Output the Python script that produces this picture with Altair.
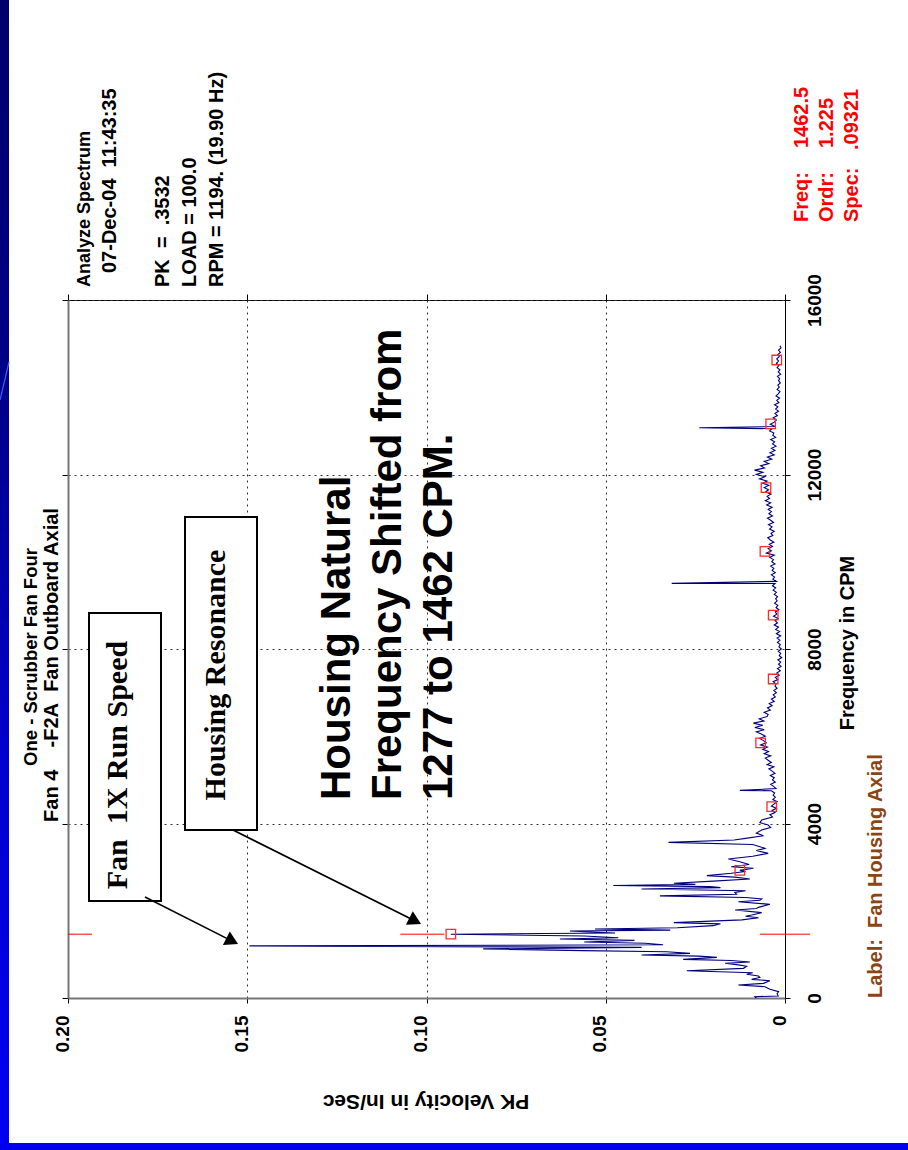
import altair as alt
import pandas as pd

# ---------------- spectrum data (frequency in CPM, PK velocity in in/sec) ----------------
# 0 - 4150 CPM: running-speed and housing-resonance region
low_freq = [0, 30, 46, 100, 145, 199, 259, 298, 336, 397, 428, 470, 504, 543, 580, 626,
            680, 727, 760, 795, 825, 860, 886, 932, 960, 986, 1024, 1060, 1085, 1125, 1160,
            1194, 1220, 1255, 1285, 1320, 1352, 1380, 1420, 1462.5, 1490, 1520, 1536, 1555,
            1582, 1610, 1658, 1700, 1727, 1790, 1841, 1875, 1903, 1956, 2017, 2050, 2078,
            2147, 2208, 2240, 2270, 2305, 2340, 2377, 2422, 2460, 2499, 2530, 2552, 2578,
            2605, 2629, 2680, 2728, 2770, 2805, 2860, 2900, 2925, 2973, 3010, 3060, 3125,
            3186, 3250, 3316, 3380, 3431, 3469, 3520, 3568, 3622, 3660, 3721, 3780, 3851,
            3910, 3966, 4020, 4080, 4150]
low_amp = [0.0080, 0.0084, 0.0019, 0.0022, 0.0018, 0.0042, 0.0056, 0.0130, 0.0060, 0.0042,
           0.0093, 0.0070, 0.0074, 0.0107, 0.0090, 0.0274, 0.0116, 0.0107, 0.0130, 0.0167,
           0.0098, 0.0150, 0.0284, 0.0190, 0.0240, 0.0400, 0.0265, 0.0330, 0.0563, 0.0842,
           0.0400, 0.1494, 0.0340, 0.0390, 0.0560, 0.0420, 0.0628, 0.0465, 0.0560, 0.09321,
           0.0474, 0.0560, 0.0600, 0.0320, 0.0530, 0.0300, 0.0200, 0.0180, 0.0310, 0.0120,
           0.0074, 0.0110, 0.0093, 0.0065, 0.0139, 0.0080, 0.0074, 0.0042, 0.0130, 0.0070,
           0.0065, 0.0110, 0.0349, 0.0135, 0.0140, 0.0110, 0.0400, 0.0180, 0.0209, 0.0479,
           0.0250, 0.0310, 0.0200, 0.0098, 0.0140, 0.0218, 0.0150, 0.0110, 0.0126, 0.0088,
           0.0150, 0.0100, 0.0126, 0.0158, 0.0090, 0.0047, 0.0080, 0.0056, 0.0070, 0.0090,
           0.0325, 0.0142, 0.0110, 0.0060, 0.0080, 0.0065, 0.0040, 0.0047, 0.0070, 0.0065,
           0.0035]

# 4200 - 14950 CPM noise floor, one value per 50 CPM bin (rows of 1000 CPM)
noise_start, noise_step = 4200, 50
noise_amp = [
    0.0042, 0.0028, 0.0036, 0.0024, 0.0038, 0.0030, 0.0022, 0.0034, 0.0027, 0.0033,
    0.0029, 0.0038, 0.0025, 0.0032, 0.0040, 0.0027, 0.0035, 0.0030, 0.0041, 0.0028,
    0.0036, 0.0045, 0.0031, 0.0050, 0.0038, 0.0047, 0.0055, 0.0040, 0.0058, 0.0046,
    0.0062, 0.0049, 0.0068, 0.0052, 0.0060, 0.0071, 0.0055, 0.0066, 0.0080, 0.0058,
    0.0084, 0.0062, 0.0088, 0.0059, 0.0072, 0.0050, 0.0047, 0.0058, 0.0041, 0.0049,
    0.0036, 0.0044, 0.0030, 0.0038, 0.0027, 0.0033, 0.0024, 0.0031, 0.0022, 0.0028,
    0.0025, 0.0033, 0.0020, 0.0027, 0.0016, 0.0023, 0.0013, 0.0021, 0.0011, 0.0018,
    0.0012, 0.0020, 0.0009, 0.0016, 0.0012, 0.0019, 0.0010, 0.0017, 0.0013, 0.0021,
    0.0014, 0.0022, 0.0012, 0.0024, 0.0015, 0.0026, 0.0018, 0.0030, 0.0021, 0.0028,
    0.0019, 0.0032, 0.0023, 0.0027, 0.0017, 0.0025, 0.0020, 0.0029, 0.0022, 0.0026,
    0.0021, 0.0030, 0.0024, 0.0033, 0.0026, 0.0035, 0.0028, 0.0024, 0.0034, 0.0029,
    0.0038, 0.0027, 0.0036, 0.0031, 0.0040, 0.0028, 0.0037, 0.0032, 0.0043, 0.0030,
    0.0052, 0.0038, 0.0047, 0.0035, 0.0044, 0.0031, 0.0041, 0.0048, 0.0034, 0.0039,
    0.0030, 0.0043, 0.0036, 0.0046, 0.0032, 0.0040, 0.0049, 0.0035, 0.0045, 0.0038,
    0.0047, 0.0036, 0.0051, 0.0040, 0.0055, 0.0043, 0.0050, 0.0039, 0.0054, 0.0046,
    0.0058, 0.0045, 0.0062, 0.0050, 0.0071, 0.0056, 0.0080, 0.0062, 0.0085, 0.0057,
    0.0068, 0.0045, 0.0058, 0.0037, 0.0049, 0.0030, 0.0042, 0.0028, 0.0038, 0.0025,
    0.0035, 0.0029, 0.0040, 0.0026, 0.0034, 0.0031, 0.0043, 0.0036, 0.0028, 0.0041,
    0.0030, 0.0024, 0.0033, 0.0021, 0.0028, 0.0018, 0.0026, 0.0020, 0.0029, 0.0017,
    0.0023, 0.0015, 0.0025, 0.0019, 0.0014, 0.0022, 0.0016, 0.0020, 0.0013, 0.0018,
    0.0015, 0.0021, 0.0012, 0.0019, 0.0014, 0.0022, 0.0017, 0.0024, 0.0018, 0.0023,
    0.0016, 0.0020, 0.0013, 0.0018, 0.0011, 0.0014,
]

# isolated lines above the noise floor
spike_freq = [4760, 9505, 13073]
spike_amp = [0.0126, 0.0316, 0.0239]

# harmonic cursor marks (multiples of 1462.5 CPM)
harm_freq = [1462.5, 2925, 4387.5, 5850, 7312.5, 8775, 10237.5, 11700, 13162.5, 14625]
harm_amp = [0.09321, 0.0126, 0.0037, 0.0068, 0.0033, 0.0033, 0.0056, 0.0053, 0.0040, 0.0023]

# cursor at the housing natural frequency, drawn as three short segments
cursor_freq = 1462.5
cursor_from = [0.2000, 0.1073, 0.0070]
cursor_to = [0.1933, 0.0950, -0.0070]

vel_ticks = [0, 0.05, 0.10, 0.15, 0.20]
freq_ticks = [0, 4000, 8000, 12000, 16000]

# ---------------- layout ----------------
W, H = 717, 698
PAD_L, PAD_T, PAD_R, PAD_B = 68, 300, 123, 152
SANS = "Liberation Sans"
SERIF = "Liberation Serif"
NB = "\u00a0"

noise_freq = [noise_start + noise_step * i for i in range(len(noise_amp))]
spec_df = pd.DataFrame({
    "freq": low_freq + noise_freq + spike_freq,
    "amp": low_amp + noise_amp + spike_amp,
}).sort_values("freq").reset_index(drop=True)
harm_df = pd.DataFrame({"freq": harm_freq, "amp": harm_amp})
cursor_df = pd.DataFrame({"freq": [cursor_freq] * 3, "a0": cursor_from, "a1": cursor_to})
ONE = pd.DataFrame({"k": [0]})

xs = alt.Scale(domain=[0, 0.2], reverse=True, nice=False, zero=False)
ys = alt.Scale(domain=[0, 16000], nice=False, zero=False)

grid_style = dict(grid=True, gridColor="#333333", gridDash=[2, 4], gridWidth=1)
label_style = dict(labelFont=SANS, labelFontSize=19, labelFontWeight="bold", labelColor="black",
                   labelOverlap=False, labelFlush=False, labelBound=False)

x_axis = alt.Axis(orient="bottom", values=vel_ticks, title=None,
                  labelExpr="datum.value == 0 ? '0' : format(datum.value, '.2f')",
                  labelAngle=270, labelAlign="right", labelBaseline="alphabetic", labelPadding=12,
                  tickSize=5, tickColor="black", tickWidth=1,
                  domainColor="#777777", domainWidth=2, **grid_style, **label_style)
y_axis = alt.Axis(orient="right", values=freq_ticks, format="d", title=None,
                  labelAngle=270, labelAlign="center", labelBaseline="top", labelPadding=15,
                  tickSize=5, tickColor="black", tickWidth=1,
                  domainColor="black", domainWidth=1, **grid_style, **label_style)
x_axis_top = alt.Axis(orient="top", values=vel_ticks, title=None, labels=False, grid=False,
                      domain=False, tickSize=6, tickColor="black", tickWidth=1)
y_axis_left = alt.Axis(orient="left", values=freq_ticks, title=None, labels=False, grid=False,
                       domainColor="#777777", domainWidth=2, tickSize=6, tickColor="black", tickWidth=1)

# ---------------- page frame ----------------
side_fill = alt.LinearGradient(
    gradient="linear", x1=0, x2=0, y1=0, y2=1,
    stops=[alt.GradientStop(color="#00006c", offset=0),
           alt.GradientStop(color="#00008a", offset=0.35),
           alt.GradientStop(color="#0000cc", offset=0.65),
           alt.GradientStop(color="#0000f2", offset=1)])
side_strip = alt.Chart(ONE).mark_rect(fill=side_fill).encode(
    x=alt.value(-PAD_L), x2=alt.value(-PAD_L + 9),
    y=alt.value(-PAD_T), y2=alt.value(H + PAD_B))
bottom_strip = alt.Chart(ONE).mark_rect(fill="#0000ee").encode(
    x=alt.value(-PAD_L), x2=alt.value(W + PAD_R),
    y=alt.value(H + 145), y2=alt.value(H + PAD_B))
swoosh = alt.Chart(ONE).mark_rule(color="#3b5cff", strokeWidth=1.2).encode(
    x=alt.value(-PAD_L), x2=alt.value(-PAD_L + 9),
    y=alt.value(400 - PAD_T), y2=alt.value(362 - PAD_T))

# ---------------- plot layers ----------------
cursor = alt.Chart(cursor_df).mark_rule(color="#ff0000", strokeWidth=1).encode(
    x=alt.X("a0:Q", scale=xs, axis=None), x2="a1:Q",
    y=alt.Y("freq:Q", scale=ys, axis=None))

spectrum = alt.Chart(spec_df).mark_line(color="#00007f", strokeWidth=1.1).encode(
    x=alt.X("amp:Q", scale=xs, axis=x_axis),
    y=alt.Y("freq:Q", scale=ys, axis=y_axis),
    order="freq:Q")

markers = alt.Chart(harm_df).mark_point(shape="square", size=90, filled=False,
                                        color="#ff2a2a", strokeWidth=1.3, opacity=1).encode(
    x=alt.X("amp:Q", scale=xs, axis=x_axis_top),
    y=alt.Y("freq:Q", scale=ys, axis=y_axis_left))

# callout boxes (velocity / frequency corners) and arrows
box_df = pd.DataFrame({"a0": [0.19414, 0.16736], "a1": [0.17406, 0.14728],
                       "f0": [2223, 3851], "f1": [8825, 11026]})
boxes = alt.Chart(box_df).mark_rect(fill="white", stroke="black", strokeWidth=2).encode(
    x=alt.X("a0:Q", scale=xs, axis=None), x2="a1:Q",
    y=alt.Y("f0:Q", scale=ys, axis=None), y2="f1:Q")

arrow_df = pd.DataFrame({"a0": [0.17852, 0.15397], "f0": [2315, 3851],
                         "a1": [0.15420, 0.10315], "f1": [1304, 1763]})
arrow_lines = alt.Chart(arrow_df).mark_rule(color="black", strokeWidth=1.6).encode(
    x=alt.X("a0:Q", scale=xs, axis=None), x2="a1:Q",
    y=alt.Y("f0:Q", scale=ys, axis=None), y2="f1:Q")
arrow_heads = alt.Chart(arrow_df).mark_point(shape="triangle-up", filled=True, size=230,
                                             color="black", opacity=1, angle=117).encode(
    x=alt.X("a1:Q", scale=xs, axis=None),
    y=alt.Y("f1:Q", scale=ys, axis=None))


def label(text, cx, cy, size=20, angle=270, align="center", baseline="middle",
          color="black", font=SANS, weight="bold"):
    return alt.Chart(ONE).mark_text(
        text=text, angle=angle, align=align, baseline=baseline, fontSize=size,
        font=font, fontWeight=weight, color=color).encode(
        x=alt.value(cx - PAD_L), y=alt.value(cy - PAD_T))


texts = [
    label("One - Scrubber Fan Four", 31, 657, size=18.5),
    label("Fan 4" + NB * 4 + "-F2A" + NB * 2 + "Fan Outboard Axial", 52, 665),
    label("Analyze Spectrum", 85, 287, size=18, align="left"),
    label("07-Dec-04" + NB * 2 + "11:43:35", 110, 273, align="left"),
    label("PK" + NB * 2 + "=" + NB * 2 + ".3532", 163, 287, align="left"),
    label("LOAD = 100.0", 190, 287, align="left"),
    label("RPM = 1194. (19.90 Hz)", 217, 287, align="left"),
    label("Freq:", 802, 222, align="left", color="#ff0000"),
    label("Ordr:", 827, 222, align="left", color="#ff0000"),
    label("Spec:", 852, 222, align="left", color="#ff0000"),
    label("1462.5", 802, 148, align="left", color="#ff0000"),
    label("1.225", 827, 148, align="left", color="#ff0000"),
    label(".09321", 852, 150, align="left", color="#ff0000"),
    label("Label:" + NB * 2 + "Fan Housing Axial", 876, 998, align="left", color="#8b4513"),
    label("PK Velocity in In/Sec", 426, 1101, size=21, angle=180),
    label("Frequency in CPM", 848, 643),
    label("Housing Natural", 350, 800, size=42, align="left", baseline="alphabetic"),
    label("Frequency Shifted from", 401, 800, size=42, align="left", baseline="alphabetic"),
    label("1277 to 1462 CPM.", 452, 800, size=42, align="left", baseline="alphabetic"),
    label("Fan" + NB + " 1X Run Speed", 127, 765, size=30, baseline="alphabetic", font=SERIF),
    label("Housing Resonance", 225, 675, size=30, baseline="alphabetic", font=SERIF),
]

chart = alt.layer(
    side_strip, bottom_strip, swoosh,
    cursor, spectrum, markers,
    boxes, arrow_lines, arrow_heads,
    *texts,
).resolve_axis(
    x="independent", y="independent"
).properties(
    width=W, height=H,
    padding={"left": PAD_L, "top": PAD_T, "right": PAD_R, "bottom": PAD_B},
    autosize=alt.AutoSizeParams(type="none"),
    background="white",
).configure_view(
    stroke="black", strokeWidth=1
)

chart.save("out.html", embed_options={"renderer": "svg", "actions": False})
